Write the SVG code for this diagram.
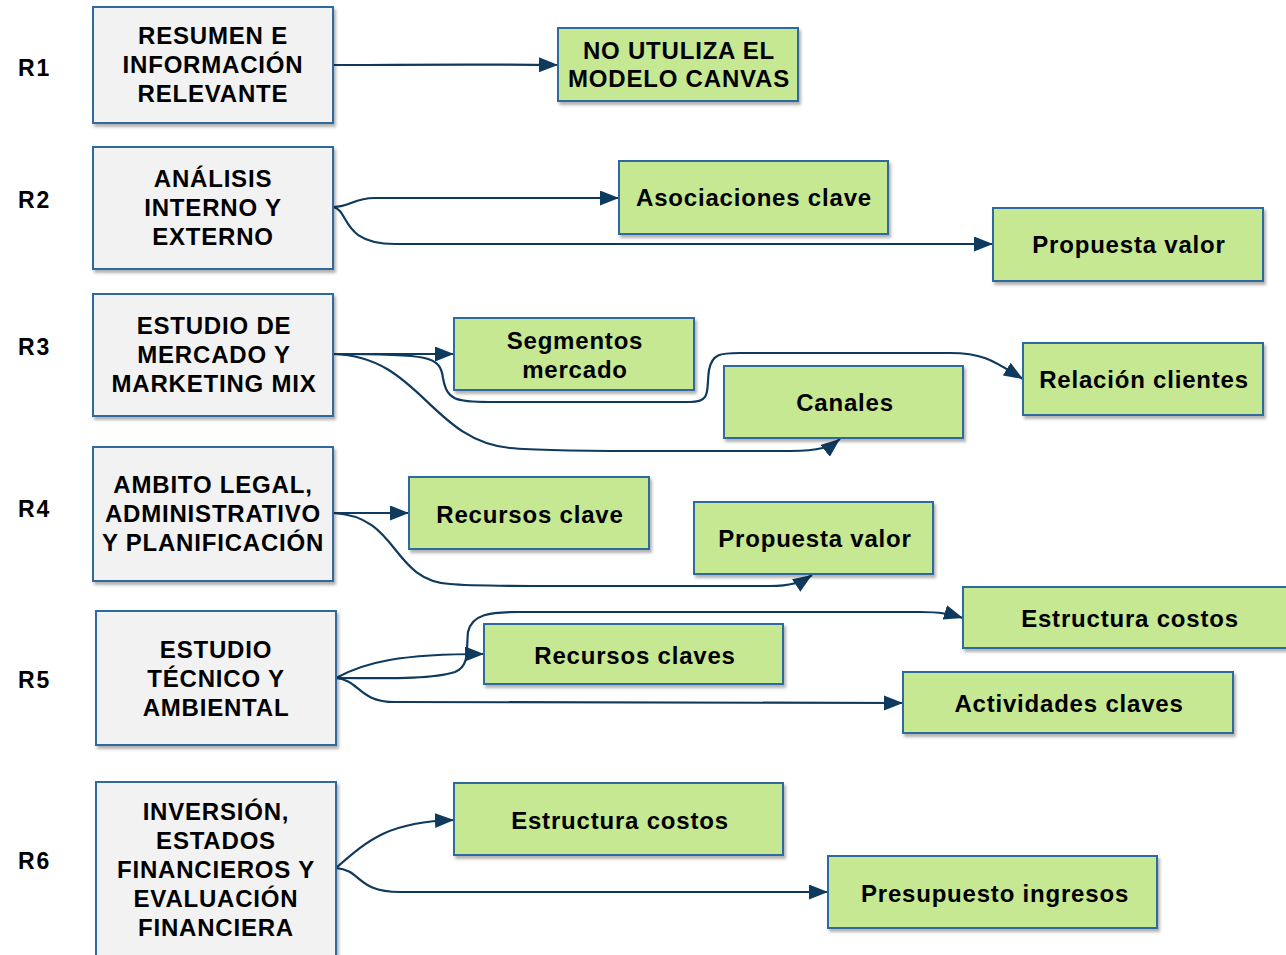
<svg xmlns="http://www.w3.org/2000/svg" width="1286" height="955" viewBox="0 0 1286 955">
  <defs>
    <filter id="shadow" x="-5%" y="-5%" width="115%" height="120%">
      <feDropShadow dx="2" dy="3" stdDeviation="1.5" flood-color="#000" flood-opacity="0.3"/>
    </filter>
    <marker id="arrow" markerUnits="userSpaceOnUse" markerWidth="20" markerHeight="16" refX="19" refY="7.5" orient="auto">
      <path d="M0,0 L19,7.5 L0,15 Z" fill="#0e3a5e"/>
    </marker>
    <style>
      .stage rect { fill: #f2f2f2; stroke: #2e6a9e; stroke-width: 2; filter: url(#shadow); }
      .item rect { fill: #c6e892; stroke: #2e6a9e; stroke-width: 2; filter: url(#shadow); }
      text { font-family: "Liberation Sans", Arial, sans-serif; font-weight: bold; fill: #000; text-anchor: middle; dominant-baseline: central; }
      .stage text { font-size: 24px; letter-spacing: 0.8px; }
      .item text { font-size: 24px; letter-spacing: 0.8px; }
      .tag { font-size: 23px; letter-spacing: 2px; text-anchor: start; }
      .links path { fill: none; stroke: #0e3a5e; stroke-width: 2.2; marker-end: url(#arrow); }
    </style>
  </defs>

  <!-- row labels -->
  <g id="labels">
    <text class="tag" x="18" y="68">R1</text>
    <text class="tag" x="18" y="200">R2</text>
    <text class="tag" x="18" y="347">R3</text>
    <text class="tag" x="18" y="509">R4</text>
    <text class="tag" x="18" y="680">R5</text>
    <text class="tag" x="18" y="861">R6</text>
  </g>

  <!-- connectors -->
  <g id="connectors" class="links">
    <path d="M333,65 C400,65 450,64 558,65"/>
    <path d="M333,207 C352,207 352,198 375,198 L619,198"/>
    <path d="M333,207 C350,210 340,244 395,244 L993,244"/>
    <path d="M333,354 L454,354"/>
    <path d="M333,354 C430,354 440,356 443,378 C447,400 455,402 490,402 L690,402 C712,402 706,390 709,370 C712,354 720,353 740,353 L950,353 C985,353 995,362 1023,379"/>
    <path d="M333,354 C420,356 430,440 510,448 C540,451 600,451 650,451 L790,451 C820,451 830,447 840,439"/>
    <path d="M333,513 L409,513"/>
    <path d="M333,513 C400,516 390,580 450,584 C470,586 520,586 560,586 L770,586 C790,586 800,583 812,575"/>
    <path d="M336,678 C365,662 400,654 484,654"/>
    <path d="M336,678 C380,678 430,680 455,672 C470,666 466,650 468,632 C472,614 490,612 520,612 L920,612 C940,612 950,614 963,618"/>
    <path d="M336,678 C360,680 358,702 395,702 L903,703"/>
    <path d="M336,868 C370,838 390,822 454,820"/>
    <path d="M336,868 C362,870 356,892 400,892 L828,892"/>
  </g>

  <!-- stage nodes -->
  <g id="r1" class="stage">
    <rect x="93" y="7" width="240" height="116"/>
    <text x="213" y="35">RESUMEN E</text>
    <text x="213" y="64">INFORMACIÓN</text>
    <text x="213" y="93">RELEVANTE</text>
  </g>
  <g id="r2" class="stage">
    <rect x="93" y="147" width="240" height="122"/>
    <text x="213" y="178">ANÁLISIS</text>
    <text x="213" y="207">INTERNO Y</text>
    <text x="213" y="236">EXTERNO</text>
  </g>
  <g id="r3" class="stage">
    <rect x="93" y="294" width="240" height="122"/>
    <text x="214" y="325">ESTUDIO DE</text>
    <text x="214" y="354">MERCADO Y</text>
    <text x="214" y="383">MARKETING MIX</text>
  </g>
  <g id="r4" class="stage">
    <rect x="93" y="447" width="240" height="134"/>
    <text x="213" y="484">AMBITO LEGAL,</text>
    <text x="213" y="513">ADMINISTRATIVO</text>
    <text x="213" y="542">Y PLANIFICACIÓN</text>
  </g>
  <g id="r5" class="stage">
    <rect x="96" y="611" width="240" height="134"/>
    <text x="216" y="649">ESTUDIO</text>
    <text x="216" y="678">TÉCNICO Y</text>
    <text x="216" y="707">AMBIENTAL</text>
  </g>
  <g id="r6" class="stage">
    <rect x="96" y="782" width="240" height="180"/>
    <text x="216" y="811">INVERSIÓN,</text>
    <text x="216" y="840">ESTADOS</text>
    <text x="216" y="869">FINANCIEROS Y</text>
    <text x="216" y="898">EVALUACIÓN</text>
    <text x="216" y="927">FINANCIERA</text>
  </g>

  <!-- canvas blocks -->
  <g id="canvas-none" class="item">
    <rect x="558" y="28" width="240" height="73"/>
    <text x="679" y="50">NO UTULIZA EL</text>
    <text x="679" y="78">MODELO CANVAS</text>
  </g>
  <g id="asociaciones" class="item">
    <rect x="619" y="161" width="269" height="73"/>
    <text x="754" y="197">Asociaciones clave</text>
  </g>
  <g id="propuesta-r2" class="item">
    <rect x="993" y="208" width="270" height="73"/>
    <text x="1129" y="244">Propuesta valor</text>
  </g>
  <g id="segmentos" class="item">
    <rect x="454" y="318" width="240" height="72"/>
    <text x="575" y="340">Segmentos</text>
    <text x="575" y="369">mercado</text>
  </g>
  <g id="relacion" class="item">
    <rect x="1023" y="343" width="240" height="72"/>
    <text x="1144" y="379">Relación clientes</text>
  </g>
  <g id="canales" class="item">
    <rect x="724" y="366" width="239" height="72"/>
    <text x="845" y="402">Canales</text>
  </g>
  <g id="recursos-r4" class="item">
    <rect x="409" y="477" width="240" height="72"/>
    <text x="530" y="514">Recursos clave</text>
  </g>
  <g id="propuesta-r4" class="item">
    <rect x="694" y="502" width="239" height="72"/>
    <text x="815" y="538">Propuesta valor</text>
  </g>
  <g id="costos-r5" class="item">
    <rect x="963" y="587" width="330" height="61"/>
    <text x="1130" y="618">Estructura costos</text>
  </g>
  <g id="recursos-r5" class="item">
    <rect x="484" y="624" width="299" height="60"/>
    <text x="635" y="655">Recursos claves</text>
  </g>
  <g id="actividades" class="item">
    <rect x="903" y="672" width="330" height="61"/>
    <text x="1069" y="703">Actividades claves</text>
  </g>
  <g id="costos-r6" class="item">
    <rect x="454" y="783" width="329" height="72"/>
    <text x="620" y="820">Estructura costos</text>
  </g>
  <g id="ingresos" class="item">
    <rect x="828" y="856" width="329" height="72"/>
    <text x="995" y="893">Presupuesto ingresos</text>
  </g>
</svg>
